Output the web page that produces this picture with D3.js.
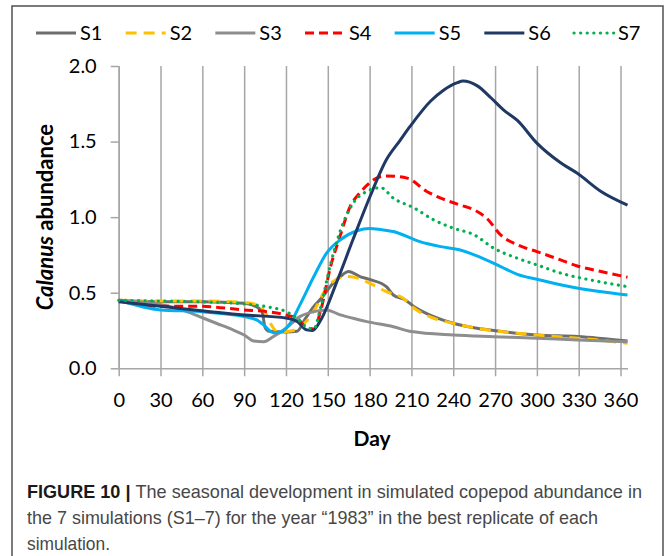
<!DOCTYPE html>
<html>
<head>
<meta charset="utf-8">
<script src="https://cdn.jsdelivr.net/npm/d3@7"></script>
<style>
  body { margin: 0; background: #fff; }
  svg { display: block; }
  .tick text { font-family: Lato, "Open Sans", sans-serif; font-size: 20px; fill: #000; }
  .legend text { font-family: Lato, "Open Sans", sans-serif; font-size: 20px; fill: #000; }
  .caption { font-family: "Liberation Sans Narrow", "Liberation Sans", Arial, sans-serif; font-size: 18.5px; fill: #474747; }
</style>
</head>
<body>
<svg width="667" height="556"></svg>
<script>
// series data: [day, abundance]
const s1 = [[0,0.45],[30,0.44],[60,0.44],[90,0.43],[100,0.40],[103,0.37],[105,0.27],[108,0.245],[120,0.24],[128,0.245],[134,0.33],[140,0.41],[145,0.46],[154,0.565],[159,0.607],[165,0.64],[173,0.607],[181,0.585],[192,0.54],[197,0.485],[205,0.455],[212,0.408],[226,0.342],[240,0.298],[257,0.265],[269,0.25],[300,0.22],[329,0.21],[365,0.18]]
const s2 = [[0,0.45],[30,0.445],[60,0.445],[90,0.435],[100,0.42],[105,0.37],[110,0.28],[114,0.24],[122,0.245],[130,0.27],[140,0.38],[149,0.53],[159,0.60],[164,0.607],[170,0.60],[180,0.563],[192,0.507],[204,0.464],[212,0.397],[226,0.331],[240,0.298],[257,0.265],[300,0.22],[341,0.19],[365,0.166]]
const s3 = [[0,0.45],[30,0.42],[46,0.386],[58,0.342],[70,0.298],[82,0.254],[90,0.22],[97,0.18],[104,0.175],[111,0.21],[120,0.265],[130,0.342],[140,0.375],[149,0.386],[159,0.353],[173,0.32],[178,0.309],[197,0.275],[210,0.243],[240,0.22],[269,0.209],[300,0.199],[329,0.187],[365,0.176]]
const s4 = [[0,0.45],[30,0.41],[58,0.41],[90,0.386],[106,0.375],[120,0.353],[128,0.33],[135,0.267],[140,0.26],[145,0.386],[152,0.673],[159,0.88],[166,1.07],[173,1.16],[178,1.21],[185,1.258],[192,1.273],[207,1.258],[221,1.17],[231,1.126],[245,1.08],[255,1.048],[264,0.993],[274,0.883],[286,0.817],[300,0.772],[317,0.717],[329,0.677],[346,0.64],[365,0.603]]
const s5 = [[0,0.45],[30,0.386],[58,0.375],[90,0.342],[99,0.32],[104,0.287],[111,0.236],[116,0.24],[123,0.298],[130,0.42],[140,0.607],[149,0.76],[159,0.85],[171,0.91],[180,0.925],[188,0.918],[197,0.905],[216,0.838],[231,0.805],[245,0.783],[257,0.744],[274,0.673],[286,0.622],[300,0.589],[324,0.54],[365,0.485]]
const s6 = [[0,0.44],[30,0.41],[90,0.353],[120,0.333],[128,0.31],[135,0.254],[139,0.25],[145,0.32],[157,0.585],[168,0.85],[180,1.13],[192,1.38],[202,1.51],[209,1.6],[224,1.77],[233,1.84],[243,1.89],[247,1.9],[257,1.87],[267,1.79],[276,1.71],[286,1.64],[300,1.49],[317,1.36],[329,1.29],[346,1.17],[365,1.08]]
const s7 = [[0,0.45],[30,0.445],[60,0.44],[90,0.426],[106,0.408],[120,0.375],[128,0.33],[135,0.27],[140,0.26],[145,0.408],[152,0.69],[159,0.91],[168,1.09],[178,1.17],[188,1.195],[197,1.126],[212,1.06],[226,0.982],[240,0.927],[255,0.883],[269,0.795],[286,0.728],[300,0.684],[317,0.63],[341,0.58],[365,0.54]]

const seriesNames = ['S1', 'S2', 'S3', 'S4', 'S5', 'S6', 'S7']
const seriesData = [s1, s2, s3, s4, s5, s6, s7]
const colors = ['#6d6d6d', '#ffc000', '#8e8e8e', '#ff0000', '#00b0f0', '#1f3864', '#00b050']
const dashes = [null, '11,7', null, '9,5', null, null, '0.1,6.5']

const xTicks = [0, 30, 60, 90, 120, 150, 180, 210, 240, 270, 300, 330, 360]
const yTicks = [0, 0.5, 1.0, 1.5, 2.0]

const captionLines = [
  ['FIGURE 10 | ', 'The seasonal development in simulated copepod abundance in'],
  ['', 'the 7 simulations (S1\u20137) for the year \u201c1983\u201d in the best replicate of each'],
  ['', 'simulation.']
]

var svg = d3.select('svg')

// outer frame
svg.append('rect')
  .attr('x', 12).attr('y', 6)
  .attr('width', 651).attr('height', 600)
  .attr('fill', 'none')
  .attr('stroke', '#505050')
  .attr('stroke-width', 1.5)

const x = d3.scaleLinear().domain([0, 365]).range([118.7, 627.5])
const y = d3.scaleLinear().domain([0, 2]).range([368.3, 66])

// x axis with vertical gridlines
const gx = svg.append('g')
  .attr('transform', `translate(0,${y(0)})`)
  .call(d3.axisBottom(x).tickValues(xTicks).tickSizeInner(8).tickSizeOuter(0).tickPadding(17))

gx.select('.domain').attr('stroke', '#a6a6a6').attr('stroke-width', 1.5)
gx.selectAll('.tick line')
  .attr('y1', y(2) - y(0))
  .attr('stroke', '#a6a6a6')
  .attr('stroke-width', 1.5)
gx.selectAll('.tick text').attr('dy', '0.71em')

// y axis
const gy = svg.append('g')
  .attr('transform', `translate(${x(0)},0)`)
  .call(d3.axisLeft(y).tickValues(yTicks).tickFormat(d3.format('.1f')).tickSizeInner(8).tickSizeOuter(0).tickPadding(14))

gy.select('.domain').attr('stroke', '#a6a6a6').attr('stroke-width', 1.5)
gy.selectAll('.tick line').attr('stroke', '#a6a6a6').attr('stroke-width', 1.5)

// axis titles
const yTitle = svg.append('text')
  .attr('transform', `translate(53,${(y(0) + y(2)) / 2}) rotate(-90)`)
  .attr('text-anchor', 'middle')
  .style('font-family', 'Lato, "Open Sans", sans-serif')
  .style('font-size', '22px')
  .style('font-weight', 'bold')
yTitle.append('tspan').style('font-style', 'italic').text('Calanus')
yTitle.append('tspan').text(' abundance')

svg.append('text')
  .attr('x', 372).attr('y', 446)
  .attr('text-anchor', 'middle')
  .style('font-family', 'Lato, "Open Sans", sans-serif')
  .style('font-size', '21px')
  .style('font-weight', 'bold')
  .text('Day')

// lines
const line = d3.line()
  .x(d => x(d[0]))
  .y(d => y(d[1]))
  .curve(d3.curveMonotoneX)

svg.append('g').selectAll('path')
  .data(seriesData)
  .enter()
  .append('path')
  .attr('d', line)
  .attr('fill', 'none')
  .attr('stroke', (d, i) => colors[i])
  .attr('stroke-width', (d, i) => i == 6 ? 3.2 : 3)
  .attr('stroke-linecap', (d, i) => i == 6 ? 'round' : 'butt')
  .attr('stroke-dasharray', (d, i) => dashes[i])

// legend
const lx = d3.scaleLinear().domain([0, 6]).range([36, 574])
const legend = svg.append('g').attr('class', 'legend')
const item = legend.selectAll('g')
  .data(seriesNames)
  .enter()
  .append('g')
  .attr('transform', (d, i) => `translate(${lx(i)},33)`)

item.append('line')
  .attr('x1', 0).attr('x2', 40)
  .attr('stroke', (d, i) => colors[i])
  .attr('stroke-width', (d, i) => i == 6 ? 3.2 : 3)
  .attr('stroke-linecap', (d, i) => i == 6 ? 'round' : 'butt')
  .attr('stroke-dasharray', (d, i) => dashes[i])

item.append('text')
  .attr('x', 44)
  .attr('dy', '0.36em')
  .text(d => d)

// caption
const capY = [498, 524, 550]
const capW = [615, 571, 83]
captionLines.forEach((c, i) => {
  const t = svg.append('text')
    .attr('class', 'caption')
    .attr('x', 27).attr('y', capY[i])
    .attr('textLength', capW[i])
    .attr('lengthAdjust', 'spacingAndGlyphs')
  if (c[0]) t.append('tspan').style('font-weight', 'bold').style('fill', '#1a1a1a').text(c[0])
  t.append('tspan').text(c[1])
})
</script>
</body>
</html>
